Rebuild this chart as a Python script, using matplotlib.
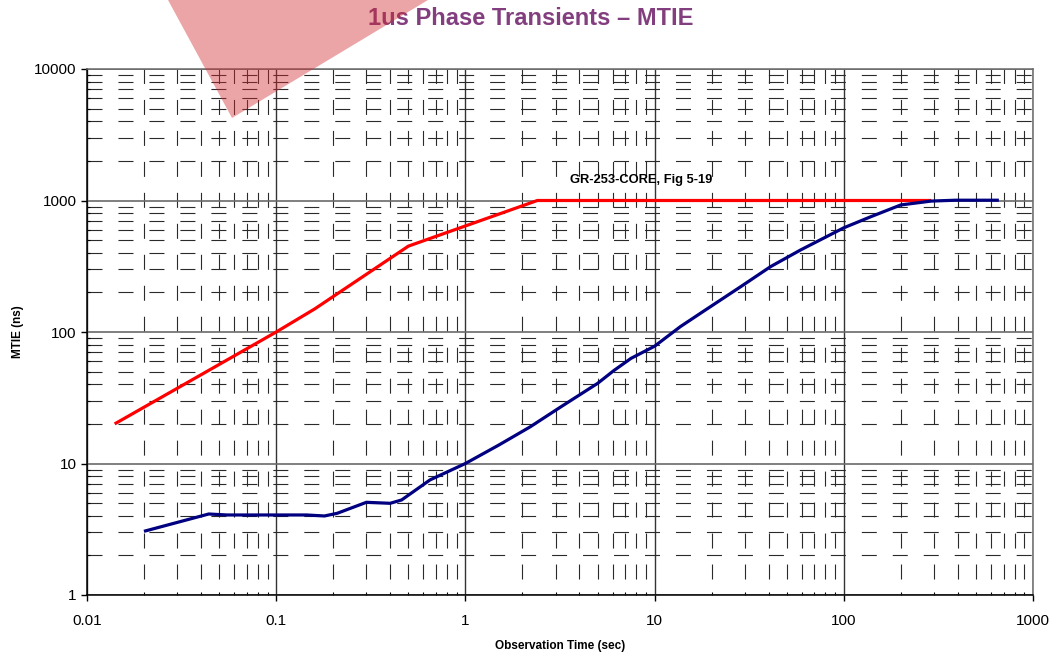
import numpy as np
import matplotlib
matplotlib.use('Agg')
import matplotlib.pyplot as plt
from matplotlib.ticker import LogLocator, FuncFormatter, NullFormatter
from matplotlib.patches import Polygon

plt.rcParams['font.family'] = ['Liberation Sans', 'DejaVu Sans']
plt.rcParams['lines.scale_dashes'] = False

# GR-253-CORE Fig 5-19 mask
mask_t = [0.014, 0.1, 0.16, 0.5, 2.4, 290]
mask_ns = [20, 100, 150, 450, 1000, 1000]

# measured MTIE of the 1us phase transient
meas_t = [0.02, 0.044, 0.055, 0.145, 0.18, 0.21, 0.30, 0.40, 0.46, 0.65, 1.0,
          1.5, 2.2, 3.2, 5.0, 6.1, 7.5, 10, 13.7, 17.5, 28.5, 41, 59, 100,
          139, 200, 290, 390, 660]
meas_ns = [3.05, 4.13, 4.06, 4.06, 3.99, 4.18, 5.07, 4.98, 5.28, 7.5, 10,
           13.8, 19, 27, 40.7, 51, 63, 78, 110, 139, 221, 314, 420, 620,
           753, 925, 990, 1005, 1005]

title = '1us Phase Transients \u2013 MTIE'
mask_label = 'GR-253-CORE, Fig 5-19'

fig = plt.figure(figsize=(10.56, 6.55), dpi=100)
ax = fig.add_axes([87/1056, 60/655, 946/1056, 526/655])

ax.plot(mask_t, mask_ns, color='#ff0000', lw=2.3, zorder=4, solid_capstyle='butt')
ax.plot(meas_t, meas_ns, color='#000080', lw=2.3, zorder=5, solid_capstyle='butt')

ax.set_xscale('log')
ax.set_yscale('log')
ax.set_xlim(0.01, 1000)
ax.set_ylim(1, 10000)

fmt = FuncFormatter(lambda v, p: ('%g' % v))
for a in (ax.xaxis, ax.yaxis):
    a.set_major_locator(LogLocator(base=10))
    a.set_minor_locator(LogLocator(base=10, subs=np.arange(2, 10)))
    a.set_major_formatter(fmt)
    a.set_minor_formatter(NullFormatter())

# grid: solid majors, long-dash minors
ax.xaxis.grid(which='major', color='#333333', lw=1.0, ls='-')
ax.yaxis.grid(which='major', color='#6a6a6a', lw=1.2, ls='-')
ax.xaxis.grid(which='minor', color='#2a2a2a', lw=0.8, ls=(10.8, (10.8, 11.5)))
ax.yaxis.grid(which='minor', color='#2a2a2a', lw=0.8, ls=(0, (10.8, 11.5)))
ax.set_axisbelow(True)

ax.tick_params(which='major', direction='out', length=4.5, width=1, pad=3,
               labelsize=11, color='black')
ax.tick_params(axis='x', which='major', pad=9.5)
ax.tick_params(which='minor', direction='in', length=2.5, width=0.8, color='black')

for s in ('left', 'bottom'):
    ax.spines[s].set_color('black')
    ax.spines[s].set_linewidth(1.1)
for s in ('top', 'right'):
    ax.spines[s].set_color('#6a6a6a')
    ax.spines[s].set_linewidth(1.1)

ax.set_xlabel('Observation Time (sec)', fontsize=8.5, fontweight='bold', labelpad=8)
ax.set_ylabel('MTIE (ns)', fontsize=8.5, fontweight='bold')
ax.yaxis.set_label_coords((24 - 87) / 946, 0.5)

ax.text(8.5, 1430, mask_label, fontsize=9.3, fontweight='bold', ha='center', va='center')

fig.text(0.503, 0.972, title, ha='center', va='center', fontsize=17,
         fontweight='bold', color='#823e7e')

# faded watermark in the top-left corner
wm = Polygon([[168/1056, 1.0], [232/1056, 1 - 118/655], [428/1056, 1.0]],
             closed=True, transform=fig.transFigure, facecolor='#d42a2f',
             alpha=0.42, edgecolor='none', zorder=10)
fig.patches.append(wm)

fig.savefig('out.png', dpi=100)
